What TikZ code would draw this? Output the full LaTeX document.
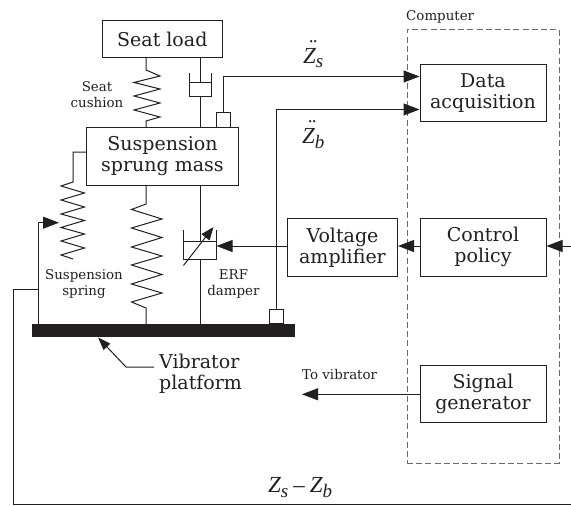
\documentclass[tikz,border=0pt]{standalone}
\usepackage{fontspec}
\setmainfont{DejaVu Serif}
\newfontfamily\zfont[ItalicFont={Liberation Serif Italic}]{Liberation Serif}
\newcommand{\zsub}[1]{\raisebox{-5pt}{\fontsize{19}{19}\selectfont #1}}
\newcommand{\zdd}{\rlap{\kern4.6pt\raisebox{8pt}{¨}}Z}
\usetikzlibrary{arrows.meta}
\definecolor{ink}{HTML}{231F20}
\definecolor{dashgray}{HTML}{6A6A6A}
\tikzset{
  wire/.style={draw=ink,line width=1pt,line join=miter},
  arr/.style={wire,-{Triangle[length=16pt,width=12pt]}},
  blockbox/.style={draw=ink,line width=1pt,fill=white,inner sep=0pt,align=center,text=ink,
     font=\fontsize{19}{21}\selectfont},
  sensorbox/.style={draw=ink,line width=1pt,fill=white,inner sep=0pt,minimum width=14.5pt,minimum height=14.5pt},
  lab/.style={text=ink,align=center,inner sep=0pt,font=\fontsize{13.4}{15.8}\selectfont},
  biglab/.style={text=ink,align=left,inner sep=0pt,font=\fontsize{19}{21}\selectfont},
  mathlab/.style={text=ink,inner sep=0pt,font=\zfont\itshape\fontsize{23}{24}\selectfont},
}
\begin{document}
\begin{tikzpicture}[x=1pt,y=-1pt]
\useasboundingbox (0,0) rectangle (571,506);
% computer frame
\node[draw=dashgray,line width=1pt,dash pattern=on 6pt off 3.2pt,minimum width=152pt,minimum height=434pt,inner sep=0pt] (computer) at (483,246.5) {};
\node[lab,anchor=base west] (computerlabel) at (406,20) {Computer};
% blocks
\node[blockbox,minimum width=120.5pt,minimum height=37pt] (seat) at (162.3,39) {Seat load};
\node[blockbox,minimum width=152pt,minimum height=57.5pt] (mass) at (162.5,156.3) {Suspension\\sprung mass};
\node[blockbox,minimum width=126pt,minimum height=57.5pt] (data) at (483,92.8) {Data\\acquisition};
\node[blockbox,minimum width=110pt,minimum height=57.5pt] (amp) at (342.5,247.3) {Voltage\\amplifier};
\node[blockbox,minimum width=126pt,minimum height=57.5pt] (policy) at (483,247.3) {Control\\policy};
\node[blockbox,minimum width=126pt,minimum height=57pt] (signal) at (483,394.2) {Signal\\generator};
% platform
\node[draw=none,fill=ink,minimum width=263.5pt,minimum height=13pt,inner sep=0pt] (platform) at (163.7,330.7) {};
% sensors
\node[sensorbox] (sensorS) at (223.5,120.2) {};
\node[sensorbox] (sensorB) at (276.3,316.7) {};
% seat cushion spring
\draw[wire] (seat.south -| 146,0) -- (146,70) -- (160,76) -- (134,82.5) -- (160,89) -- (134,96) -- (160,103) -- (134,110) -- (160,117) -- (146,121) -- (mass.north -| 146,0);
% upper damper
\draw[wire] (seat.south -| 200,0) -- (200,82);
\draw[wire] (189,73) -- (189,96.5) -- (211,96.5) -- (211,73);
\draw[wire] (189,82) -- (211,82);
\draw[wire] (200,96.5) -- (mass.north -| 200,0);
% left spring
\draw[wire] (mass.west |- 0,152) -- (73,152) -- (73,182) -- (61,186) -- (84.5,193) -- (61,200) -- (84.5,207) -- (61,214) -- (84.5,220.5) -- (61,227.5) -- (84.5,234) -- (61,241) -- (84.5,248) -- (61,255) -- (73,259);
% centre spring
\draw[wire] (mass.south -| 146,0) -- (146,204) -- (131.5,209.5) -- (162,219) -- (131.5,228) -- (162,237.5) -- (131.5,247) -- (162,256) -- (131.5,265) -- (162,274.5) -- (131.5,284) -- (162,293) -- (131.5,302) -- (146,308) -- (platform.north -| 146,0);
% ERF damper
\draw[wire] (mass.south -| 200,0) -- (200,241.5);
\draw[wire] (183.5,230) -- (183.5,259) -- (216.5,259) -- (216.5,230);
\draw[wire] (183.5,241.5) -- (216.5,241.5);
\draw[wire] (200,259) -- (platform.north -| 200,0);
\coordinate (varstart) at (183.5,265.5);
\coordinate (varend) at (213.5,227);
\draw[wire,-{Triangle[length=13pt,width=10pt]}] (varstart) -- (varend);
% sensor lines
\draw[arr] (sensorS.north) |- (data.west |- 0,76.5);
\draw[arr] (sensorB.north) |- (data.west |- 0,109.5);
% control chain
\coordinate (erfin) at (216.5,246);
\coordinate (farright) at (571,246);
\draw[arr] (amp.west |- 0,246) -- (erfin);
\draw[arr] (policy.west |- 0,246) -- (amp.east |- 0,246);
\draw[arr] (farright) -- (policy.east |- 0,246);
% signal
\coordinate (tovib) at (302,394.3);
\draw[arr] (signal.west |- 0,394.3) -- (tovib);
% feedback
\coordinate (springtap) at (59,222.7);
\coordinate (fbcorner) at (13.5,504);
\coordinate (fbend) at (571,504);
\draw[wire,-{Triangle[length=16pt,width=12pt]}] (platform.north -| 38,0) -- (38,222.7) -- (springtap);
\draw[wire] (38,289) -- (13.5,289) -- (fbcorner) -- (fbend);
% vibrator pointer
\coordinate (ptrA) at (154,367);
\coordinate (ptrB) at (126,367);
\draw[wire,-{Triangle[length=13pt,width=9pt]}] (ptrA) -- (ptrB) -- (platform.south -| 98,0);
% labels
\node[lab] (seatcushion) at (97,95) {Seat\\cushion};
\node[lab] (suspspring) at (84,284.3) {Suspension\\spring};
\node[lab] (erf) at (233.5,284.3) {ERF\\damper};
\node[lab,anchor=base west] (tovibrator) at (302,379) {To vibrator};
\node[biglab,anchor=west] (vib) at (159,374) {Vibrator\\platform};
\node[mathlab,anchor=base west] (zs) at (303,63) {\zdd\zsub{s}};
\node[mathlab,anchor=base west] (zb) at (302,143) {\zdd\zsub{b}};
\node[mathlab,anchor=base west] (zdiff) at (268,492.7) {Z\zsub{s}\kern5pt–\kern5pt Z\zsub{b}};
\end{tikzpicture}
\end{document}
